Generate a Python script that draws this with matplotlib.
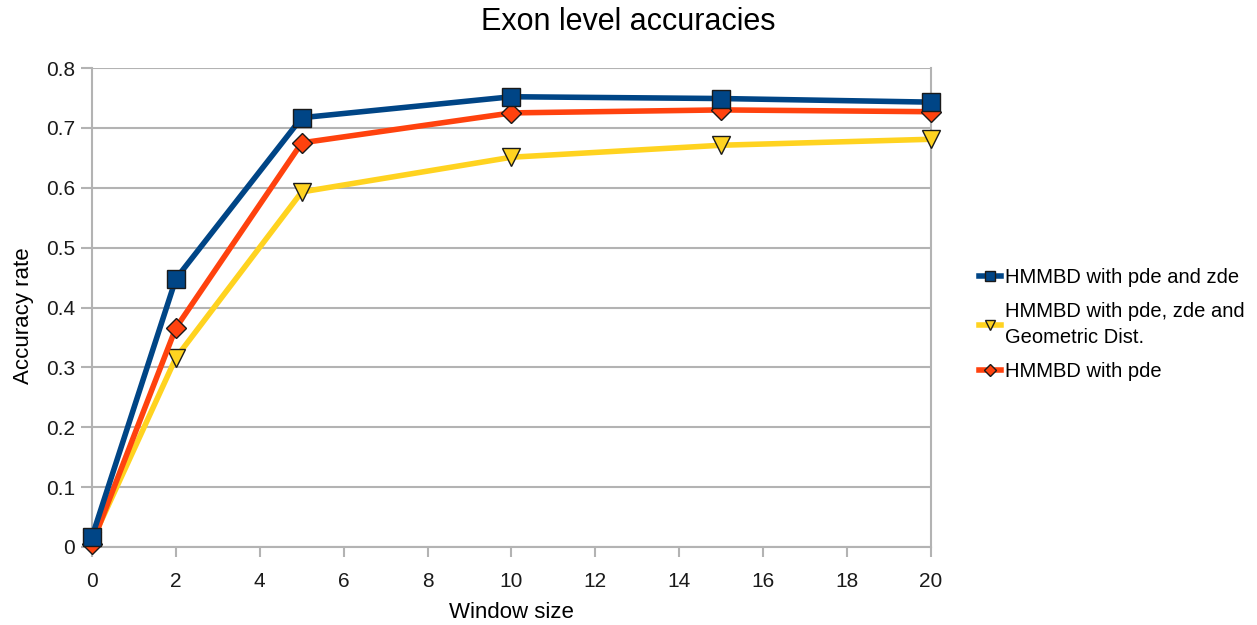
import matplotlib
matplotlib.use("Agg")
import matplotlib.pyplot as plt

plt.rcParams['font.family'] = ['Liberation Sans', 'DejaVu Sans']

window = [0, 2, 5, 10, 15, 20]
pde_zde = [0.017, 0.448, 0.717, 0.752, 0.749, 0.743]
pde_zde_geo = [0.010, 0.316, 0.593, 0.651, 0.671, 0.681]
pde_only = [0.005, 0.366, 0.675, 0.725, 0.730, 0.727]

labels = ["HMMBD with pde and zde",
          "HMMBD with pde, zde and\nGeometric Dist.",
          "HMMBD with pde"]

fig = plt.figure(figsize=(12.57, 6.25), dpi=100)
ax = fig.add_axes([92/1257, 1 - 547/625, (931 - 92)/1257, (547 - 68)/625])

grey = "#b3b3b3"
l1, = ax.plot(window, pde_zde, color="#004586", lw=4, marker="s", ms=13,
              mfc="#004586", mec="#1a1a1a", mew=1, zorder=5)
l2, = ax.plot(window, pde_zde_geo, color="#ffd320", lw=4, marker="v", ms=13,
              mfc="#ffd320", mec="#1a1a1a", mew=1, zorder=3)
l3, = ax.plot(window, pde_only, color="#ff420e", lw=4, marker="D", ms=10,
              mfc="#ff420e", mec="#1a1a1a", mew=1, zorder=4)
for l in [l1, l2, l3]:
    l.set_clip_on(False)

ax.set_xlim(0, 20)
ax.set_ylim(0, 0.8)
ax.set_xticks(range(0, 21, 2))
ax.set_yticks([0, 0.1, 0.2, 0.3, 0.4, 0.5, 0.6, 0.7, 0.8])
ax.set_yticklabels(["0", "0.1", "0.2", "0.3", "0.4", "0.5", "0.6", "0.7", "0.8"])
ax.yaxis.grid(True, color=grey, lw=1.5)
ax.set_axisbelow(True)
ax.spines["top"].set_visible(False)
for side in ["left", "bottom", "right"]:
    ax.spines[side].set_color(grey)
    ax.spines[side].set_linewidth(1.5)
ax.tick_params(axis="both", colors=grey, width=1.5, labelsize=15,
               labelcolor="#1a1a1a")
ax.tick_params(axis="x", length=7, pad=11)
ax.tick_params(axis="y", length=8, pad=4)

ax.set_xlabel("Window size", fontsize=16, labelpad=8)
ax.set_ylabel("Accuracy rate", fontsize=16)
ax.yaxis.set_label_coords(23/1257, 1 - 316/625, transform=fig.transFigure)
ax.yaxis.label.set_va("center")
fig.text(0.5, 1 - 22/625, "Exon level accuracies", fontsize=22,
         ha="center", va="center")

leg = fig.legend([l1, l2, l3], labels, loc="upper left",
                 bbox_to_anchor=(961/1257, 1 - 250/625), frameon=False,
                 fontsize=14.5, handlelength=1.1, handletextpad=0.2,
                 labelspacing=0.75, markerscale=0.6)
for t in leg.get_texts():
    t.set_linespacing(1.45)

fig.savefig("out.png", dpi=100)
